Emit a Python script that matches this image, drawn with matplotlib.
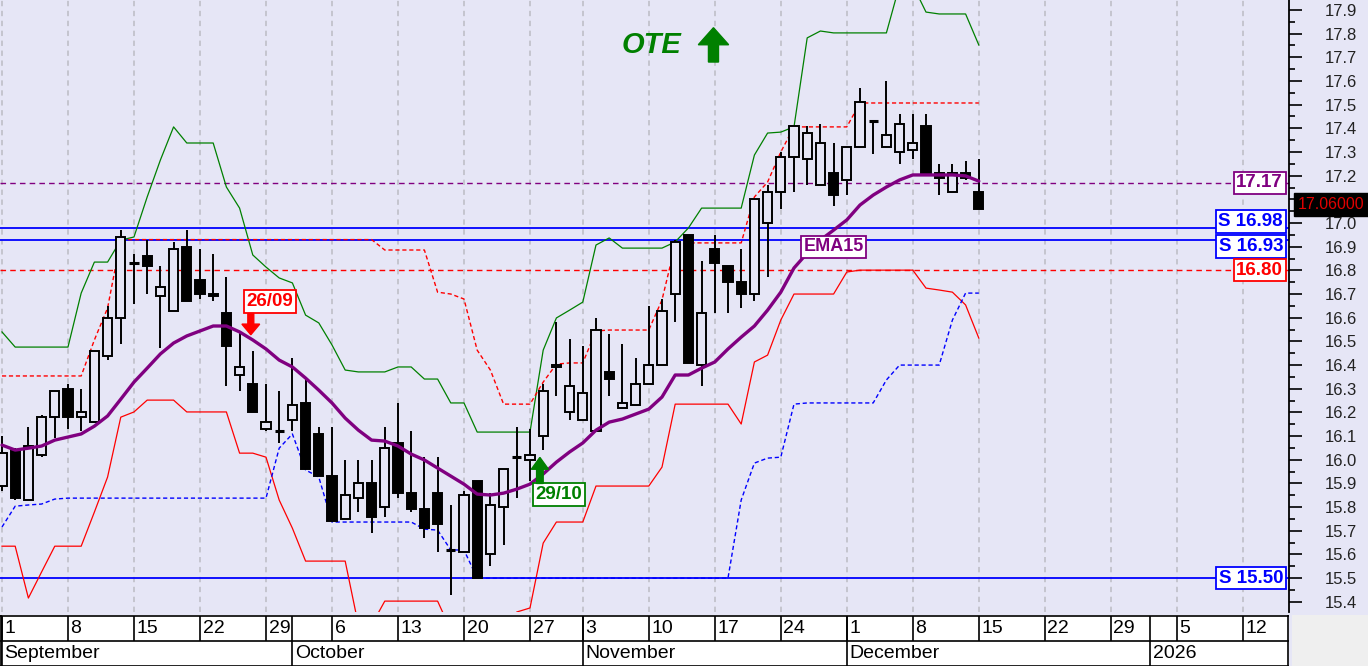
import matplotlib
matplotlib.use("Agg")
import matplotlib.pyplot as plt
from matplotlib.patches import Rectangle, FancyArrow
import numpy as np

# OTE daily candles, 1 Sep - 15 Dec 2025 (trading days, 28 Oct holiday)
opens = [15.89, 16.04, 15.83, 16.02, 16.18, 16.30, 16.18, 16.16, 16.44, 16.60,
         16.83, 16.86, 16.69, 16.63, 16.90, 16.76, 16.70, 16.62, 16.36, 16.32,
         16.13, 16.12, 16.17, 16.24, 16.11, 15.93, 15.75, 15.84, 15.90, 15.80,
         16.07, 15.86, 15.79, 15.86, 15.62, 15.61, 15.91, 15.60, 15.80, 16.01,
         16.00, 16.10, 16.39, 16.20, 16.17, 16.12, 16.37, 16.22, 16.23, 16.32,
         16.40, 16.70, 16.95, 16.40, 16.89, 16.82, 16.75, 16.70, 17.00, 17.13,
         17.28, 17.27, 17.16, 17.21, 17.18, 17.32, 17.43, 17.32, 17.30, 17.31,
         17.41, 17.21, 17.13, 17.21, 17.13]
highs = [16.10, 16.05, 16.14, 16.19, 16.29, 16.32, 16.30, 16.46, 16.65, 16.97,
         16.87, 16.93, 16.82, 16.92, 16.97, 16.89, 16.87, 16.77, 16.54, 16.46,
         16.32, 16.29, 16.43, 16.35, 16.14, 16.14, 16.00, 16.00, 16.00, 16.14,
         16.24, 16.12, 16.01, 16.01, 15.81, 15.87, 15.91, 15.86, 15.96, 16.14,
         16.13, 16.32, 16.58, 16.51, 16.48, 16.60, 16.53, 16.49, 16.43, 16.65,
         16.68, 16.93, 16.95, 16.84, 16.95, 16.82, 16.89, 17.10, 17.16, 17.30,
         17.41, 17.41, 17.42, 17.34, 17.32, 17.57, 17.43, 17.60, 17.46, 17.46,
         17.46, 17.25, 17.25, 17.26, 17.27]
lows = [15.87, 15.83, 15.83, 16.01, 16.09, 16.13, 16.12, 16.16, 16.42, 16.49,
        16.66, 16.70, 16.47, 16.63, 16.67, 16.68, 16.67, 16.31, 16.29, 16.20,
        16.12, 16.07, 16.12, 15.96, 15.93, 15.74, 15.75, 15.78, 15.69, 15.76,
        15.84, 15.78, 15.67, 15.61, 15.43, 15.61, 15.50, 15.55, 15.64, 15.84,
        15.91, 16.04, 16.27, 16.17, 16.17, 16.12, 16.27, 16.22, 16.23, 16.32,
        16.40, 16.58, 16.41, 16.31, 16.62, 16.62, 16.64, 16.67, 16.77, 17.06,
        17.13, 17.16, 17.16, 17.07, 17.12, 17.32, 17.29, 17.32, 17.25, 17.27,
        17.21, 17.12, 17.13, 17.18, 17.06]
closes = [16.03, 15.84, 16.06, 16.18, 16.29, 16.18, 16.20, 16.46, 16.60, 16.94,
          16.83, 16.82, 16.73, 16.89, 16.67, 16.70, 16.69, 16.48, 16.39, 16.20,
          16.16, 16.12, 16.23, 15.96, 15.93, 15.74, 15.85, 15.90, 15.76, 16.05,
          15.86, 15.79, 15.71, 15.73, 15.62, 15.85, 15.50, 15.81, 15.96, 16.01,
          16.02, 16.29, 16.40, 16.31, 16.28, 16.55, 16.34, 16.24, 16.32, 16.40,
          16.63, 16.92, 16.41, 16.62, 16.83, 16.75, 16.70, 17.10, 17.13, 17.28,
          17.41, 17.38, 17.34, 17.12, 17.32, 17.51, 17.43, 17.37, 17.42, 17.34,
          17.21, 17.19, 17.21, 17.19, 17.06]

ema15 = [16.062, 16.041, 16.049, 16.058, 16.083, 16.096, 16.109, 16.142, 16.185, 16.256,
         16.328, 16.387, 16.447, 16.493, 16.523, 16.544, 16.565, 16.565, 16.540, 16.506,
         16.468, 16.421, 16.392, 16.345, 16.294, 16.240, 16.176, 16.125, 16.083, 16.079,
         16.058, 16.024, 15.999, 15.965, 15.931, 15.897, 15.855, 15.851, 15.859, 15.876,
         15.897, 15.940, 15.990, 16.033, 16.071, 16.125, 16.159, 16.172, 16.193, 16.214,
         16.265, 16.358, 16.358, 16.387, 16.413, 16.468, 16.518, 16.565, 16.632, 16.708,
         16.810, 16.873, 16.928, 16.970, 17.013, 17.076, 17.118, 17.152, 17.182, 17.203,
         17.203, 17.203, 17.203, 17.199, 17.177]
upper_band = [16.540, 16.476, 16.476, 16.476, 16.476, 16.476, 16.704, 16.835, 16.835, 16.928,
              16.941, 17.110, 17.266, 17.406, 17.338, 17.338, 17.338, 17.152, 17.063, 16.865,
              16.814, 16.768, 16.747, 16.611, 16.578, 16.485, 16.379, 16.371, 16.371, 16.371,
              16.392, 16.392, 16.341, 16.341, 16.240, 16.240, 16.117, 16.117, 16.117, 16.117,
              16.117, 16.463, 16.599, 16.632, 16.666, 16.907, 16.937, 16.894, 16.894, 16.894,
              16.894, 16.920, 16.979, 17.063, 17.063, 17.063, 17.063, 17.287, 17.380, 17.384,
              17.406, 17.782, 17.811, 17.803, 17.803, 17.803, 17.803, 17.803, 18.005, 18.005,
              17.891, 17.883, 17.883, 17.883, 17.752]
lower_band = [15.635, 15.635, 15.416, 15.526, 15.635, 15.635, 15.635, 15.779, 15.927, 16.180,
              16.202, 16.252, 16.252, 16.252, 16.202, 16.202, 16.202, 16.202, 16.028, 16.028,
              16.011, 15.830, 15.711, 15.572, 15.572, 15.572, 15.572, 15.302, 15.302, 15.403,
              15.403, 15.403, 15.403, 15.403, 15.281, 15.281, 15.281, 15.281, 15.281, 15.357,
              15.374, 15.648, 15.737, 15.737, 15.737, 15.889, 15.889, 15.889, 15.889, 15.889,
              15.969, 16.235, 16.235, 16.235, 16.235, 16.235, 16.151, 16.413, 16.442, 16.590,
              16.700, 16.700, 16.700, 16.700, 16.793, 16.801, 16.801, 16.801, 16.801, 16.801,
              16.725, 16.717, 16.708, 16.654, 16.514]
stop_high = [16.354, 16.354, 16.354, 16.354, 16.354, 16.354, 16.354, 16.506, 16.641, 16.930,
             16.930, 16.930, 16.930, 16.930, 16.930, 16.930, 16.930, 16.930, 16.930, 16.930,
             16.930, 16.930, 16.930, 16.930, 16.930, 16.930, 16.930, 16.930, 16.930, 16.886,
             16.886, 16.886, 16.886, 16.708, 16.700, 16.679, 16.463, 16.379, 16.235, 16.235,
             16.235, 16.328, 16.404, 16.409, 16.409, 16.544, 16.548, 16.548, 16.548, 16.548,
             16.675, 16.907, 16.916, 16.916, 16.916, 16.916, 16.916, 17.110, 17.173, 17.300,
             17.406, 17.406, 17.406, 17.406, 17.406, 17.507, 17.507, 17.507, 17.507, 17.507,
             17.507, 17.507, 17.507, 17.507, 17.507]
stop_low = [15.716, 15.804, 15.809, 15.813, 15.834, 15.838, 15.838, 15.838, 15.838, 15.838,
            15.838, 15.838, 15.838, 15.838, 15.838, 15.838, 15.838, 15.838, 15.838, 15.838,
            15.838, 16.049, 16.109, 15.957, 15.927, 15.737, 15.737, 15.737, 15.737, 15.737,
            15.737, 15.737, 15.707, 15.703, 15.619, 15.619, 15.500, 15.500, 15.500, 15.500,
            15.500, 15.500, 15.500, 15.500, 15.500, 15.500, 15.500, 15.500, 15.500, 15.500,
            15.500, 15.500, 15.500, 15.500, 15.500, 15.500, 15.830, 15.986, 16.007, 16.011,
            16.235, 16.240, 16.240, 16.240, 16.240, 16.240, 16.240, 16.337, 16.400, 16.400,
            16.400, 16.400, 16.590, 16.704, 16.704]

# weekly date strip (trading-day index, label)
week_idx = [0, 5, 10, 15, 20, 25, 30, 35, 40, 44, 49, 54, 59, 64, 69, 74, 79, 84, 89, 94]
week_lbl = ["1", "8", "15", "22", "29", "6", "13", "20", "27", "3", "10", "17", "24",
            "1", "8", "15", "22", "29", "5", "12"]
month_idx = [0, 22, 44, 64, 87]
month_lbl = ["September", "October", "November", "December", "2026"]

# horizontal levels: price, label, colour, style
level_price = [17.17, 16.98, 16.93, 16.80, 15.50]
level_text = ["17.17", "S 16.98", "S 16.93", "16.80", "S 15.50"]
level_color = ["#800080", "#0000ff", "#0000ff", "#ff0000", "#0000ff"]
level_dash = [True, False, False, True, False]
last_price = 17.06

BG = "#e6e6f6"
W, H = 1368, 666
X_RIGHT = 1289           # right axis position, px
Y_BOTTOM = 612           # bottom of price panel, px
XMIN, XMAX = -0.15, 97.5
YMIN, YMAX = 15.357, 17.942

fig = plt.figure(figsize=(W / 100, H / 100), dpi=100, facecolor=BG)
ax = fig.add_axes([0, 1 - Y_BOTTOM / H, X_RIGHT / W, Y_BOTTOM / H])
ax.set_facecolor(BG)
ax.set_xlim(XMIN, XMAX)
ax.set_ylim(YMIN, YMAX)

# grid
for i in week_idx:
    ax.axvline(i, color="#bcbcc4", lw=1.1, dashes=(3.5, 3.0), zorder=1)

# horizontal levels
for p, c, d in zip(level_price, level_color, level_dash):
    if d:
        ax.axhline(p, color=c, lw=1.0, dashes=(4, 3), zorder=2)
    else:
        ax.axhline(p, color=c, lw=1.3, zorder=2)

idx = np.arange(len(closes))
ax.plot(idx, upper_band, color="#008000", lw=0.9, zorder=2)
ax.plot(idx, lower_band, color="#ff0000", lw=0.9, zorder=2)
ax.plot(idx, stop_high, color="#ff0000", lw=1.0, dashes=(3, 2), zorder=2)
ax.plot(idx, stop_low, color="#0000ff", lw=1.0, dashes=(3, 2), zorder=2)

# candles
bw = 0.7
for i, (o, h, l, c) in enumerate(zip(opens, highs, lows, closes)):
    ax.vlines(i, l, h, color="black", lw=1.4, zorder=3)
    if abs(c - o) < 0.005:
        ax.hlines(o, i - bw / 2, i + bw / 2, color="black", lw=2.2, zorder=4)
    else:
        face = "black" if c < o else BG
        ax.add_patch(Rectangle((i - bw / 2, min(o, c)), bw, abs(c - o),
                               facecolor=face, edgecolor="black", lw=1.4, zorder=4))

ax.plot(idx, ema15, color="#800080", lw=2.4, zorder=5, solid_capstyle="round")

# level labels on the right
box_y = [17.17, 17.006, 16.901, 16.80, 15.50]
for t, c, y in zip(level_text, level_color, box_y):
    ax.text(97.05, y, t, ha="right", va="center", color=c, fontsize=13.5,
            fontweight="bold", family="Liberation Sans", zorder=8,
            bbox=dict(boxstyle="square,pad=0.14", fc="white", ec=c, lw=1.3))

ax.text(1331 / X_RIGHT, 17.078, "17.06000", transform=ax.get_yaxis_transform(),
        ha="center", va="center", color="#e00000", fontsize=11.5,
        family="Liberation Sans", zorder=10, clip_on=False,
        bbox=dict(boxstyle="square,pad=0.25", fc="black", ec="black"))

# signals
ax.text(20.3, 16.668, "26/09", ha="center", va="center", color="#ff0000",
        fontsize=13.5, fontweight="bold", family="Liberation Sans", zorder=8,
        bbox=dict(boxstyle="square,pad=0.14", fc="white", ec="#ff0000", lw=1.3))
ax.add_patch(FancyArrow(18.85, 16.618, 0, -0.09, width=0.45, head_width=1.35,
                        head_length=0.045, length_includes_head=True,
                        color="#ff0000", zorder=8))
ax.text(42.2, 15.853, "29/10", ha="center", va="center", color="#008000",
        fontsize=13.5, fontweight="bold", family="Liberation Sans", zorder=8,
        bbox=dict(boxstyle="square,pad=0.14", fc="white", ec="#008000", lw=1.3))
ax.add_patch(FancyArrow(40.75, 15.90, 0, 0.11, width=0.5, head_width=1.3,
                        head_length=0.05, length_includes_head=True,
                        color="#008000", zorder=8))
ax.text(63.0, 16.899, "EMA15", ha="center", va="center", color="#800080",
        fontsize=13, fontweight="bold", family="Liberation Sans", zorder=8,
        bbox=dict(boxstyle="square,pad=0.15", fc="white", ec="#800080", lw=1.3))

ax.text(49.2, 17.75, "OTE", ha="center", va="center", color="#008000",
        fontsize=21, fontweight="bold", style="italic", family="Liberation Sans",
        zorder=8)
ax.add_patch(FancyArrow(53.9, 17.68, 0, 0.145, width=0.76, head_width=2.3,
                        head_length=0.072, length_includes_head=True,
                        color="#008000", zorder=8))

# right price axis (17.1 sits under the last-price box)
for s in ["top", "left", "bottom"]:
    ax.spines[s].set_visible(False)
ax.spines["right"].set_linewidth(1.3)
ax.yaxis.tick_right()
ticks = np.arange(15.4, 17.95, 0.1)
ax.set_yticks(ticks)
ax.set_yticks(np.arange(15.45, 17.95, 0.1), minor=True)
ax.set_yticklabels(["" if abs(v - 17.1) < 0.01 else f"{v:.1f}" for v in ticks])
ax.tick_params(axis="y", which="major", length=9.5, width=1.2, pad=16,
               labelsize=12, labelcolor="#222222")
ax.tick_params(axis="y", which="minor", length=4.5, width=1.2)
for lbl in ax.get_yticklabels():
    lbl.set_family("Liberation Sans")
ax.set_xticks([])

# date strip
ad = fig.add_axes([0, 0, X_RIGHT / W, 51 / H])
ad.set_xlim(XMIN, XMAX)
ad.set_ylim(0, 51)
ad.axis("off")
ad.add_patch(Rectangle((XMIN, 0), XMAX - XMIN, 51, fc="white", ec="none", zorder=0))
ad.hlines([50, 25.5, 0.5], XMIN, XMAX, color="black", lw=1.2)
ad.vlines([XMIN + 0.05, XMAX - 0.05], 0, 51, color="black", lw=1.2)
for i, t in zip(week_idx, week_lbl):
    ad.vlines(i, 25.5, 50, color="black", lw=1.2)
    ad.text(i + 0.2, 37.5, t, ha="left", va="center", fontsize=14,
            family="Liberation Sans")
for i, t in zip(month_idx, month_lbl):
    ad.vlines(i, 0, 50, color="black", lw=1.2)
    ad.text(i + 0.2, 13, t, ha="left", va="center", fontsize=14,
            family="Liberation Sans")

fig.patches.append(Rectangle((1292 / W, 0), (W - 1292) / W, 51 / H, fc="#efefef",
                             ec="none", transform=fig.transFigure, zorder=0))

fig.savefig("out.png", dpi=100, facecolor=BG)
